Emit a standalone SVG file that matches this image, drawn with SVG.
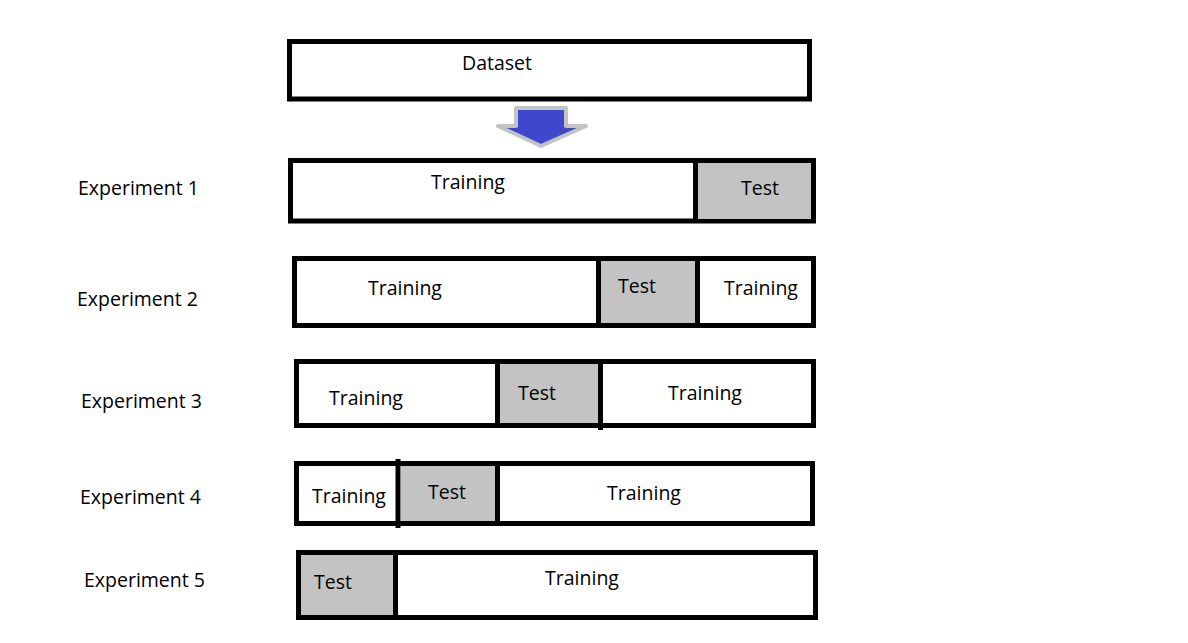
<svg xmlns="http://www.w3.org/2000/svg" width="1188" height="643" viewBox="0 0 1188 643">
<style>
.box{fill:#fff;stroke:#000;stroke-width:5}
.test{fill:#c3c3c3;stroke:none}
.div{stroke:#000;stroke-width:5}
text{font-family:"Open Sans","Liberation Sans",sans-serif;font-size:19.5px;fill:#000}
.c{text-anchor:middle}
</style>
<rect width="1188" height="643" fill="#fff"/>
<g id="dataset">
<rect class="box" x="289.5" y="41.5" width="520" height="57.5"/>
<text class="c" x="497" y="70">Dataset</text>
</g>
<g id="arrow">
<path d="M516,108 H566 V126 H586 L541,146 L498,126 H516 Z" fill="#3f48cc" stroke="#c3c3c3" stroke-width="4" stroke-linejoin="round"/>
</g>
<g id="exp1">
<text x="78" y="195">Experiment 1</text>
<rect class="box" x="290.5" y="160.5" width="523" height="60.5"/>
<rect class="test" x="698" y="163" width="113" height="56"/>
<line class="div" x1="695.5" y1="160" x2="695.5" y2="221"/>
<text class="c" x="468" y="189">Training</text>
<text class="c" x="760" y="195">Test</text>
</g>
<g id="exp2">
<text x="77" y="306">Experiment 2</text>
<rect class="box" x="294.5" y="258.5" width="519" height="67"/>
<rect class="test" x="601" y="261" width="95" height="62"/>
<line class="div" x1="598.5" y1="258" x2="598.5" y2="326"/>
<line class="div" x1="697.5" y1="258" x2="697.5" y2="326"/>
<text class="c" x="405" y="295">Training</text>
<text class="c" x="637" y="293">Test</text>
<text class="c" x="761" y="295">Training</text>
</g>
<g id="exp3">
<text x="81" y="408">Experiment 3</text>
<rect class="box" x="296.5" y="361.5" width="517" height="64"/>
<rect class="test" x="500" y="364" width="99" height="59"/>
<line class="div" x1="497.5" y1="361" x2="497.5" y2="426"/>
<line class="div" x1="600.5" y1="361" x2="600.5" y2="430"/>
<text class="c" x="366" y="405">Training</text>
<text class="c" x="537" y="400">Test</text>
<text class="c" x="705" y="400">Training</text>
</g>
<g id="exp4">
<text x="80" y="504">Experiment 4</text>
<rect class="box" x="296.5" y="463.5" width="516" height="60"/>
<rect class="test" x="401" y="466" width="95" height="55"/>
<line class="div" x1="398" y1="459" x2="398" y2="528" stroke-width="6"/>
<line class="div" x1="497.5" y1="463" x2="497.5" y2="524"/>
<text class="c" x="349" y="503">Training</text>
<text class="c" x="447" y="499">Test</text>
<text class="c" x="644" y="500">Training</text>
</g>
<g id="exp5">
<text x="84" y="587">Experiment 5</text>
<rect class="box" x="298.5" y="552.5" width="517" height="65"/>
<rect class="test" x="301" y="555" width="94" height="60"/>
<line class="div" x1="395.5" y1="552" x2="395.5" y2="618"/>
<text class="c" x="333" y="589">Test</text>
<text class="c" x="582" y="585">Training</text>
</g>
</svg>
